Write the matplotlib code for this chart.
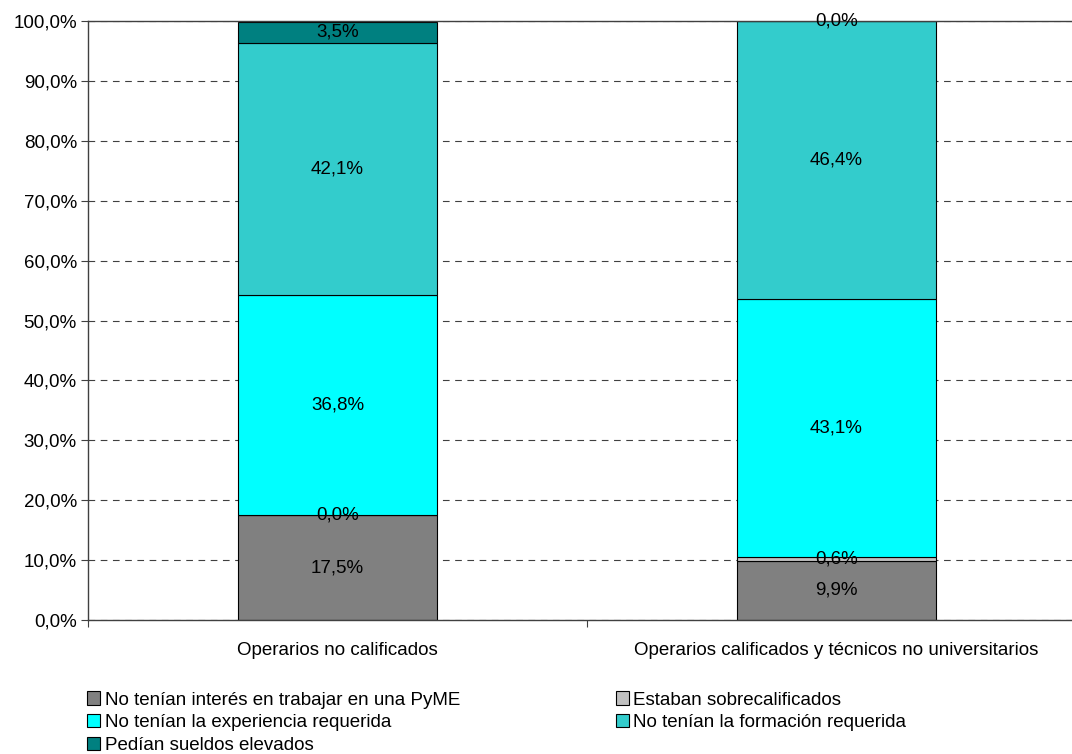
import matplotlib.pyplot as plt
import numpy as np
from matplotlib.ticker import FuncFormatter

plt.rcParams['font.family'] = ['Liberation Sans', 'DejaVu Sans']

categories = ['Operarios no calificados',
              'Operarios calificados y técnicos no universitarios']
series = ['No tenían interés en trabajar en una PyME',
          'Estaban sobrecalificados',
          'No tenían la experiencia requerida',
          'No tenían la formación requerida',
          'Pedían sueldos elevados']
values = [
    [17.5, 9.9],
    [0.0, 0.6],
    [36.8, 43.1],
    [42.1, 46.4],
    [3.5, 0.0],
]
colors = ['#808080', '#C0C0C0', '#00FFFF', '#33CCCC', '#008080']

fs = 13.5
fig = plt.figure(figsize=(10.72, 7.54), dpi=100)
ax = fig.add_axes([0.0821, 0.1777, 0.931, 0.7944])

x = np.arange(len(categories)) + 0.5
bottom = np.zeros(len(categories))
for name, vals, c in zip(series, values, colors):
    vals = np.array(vals)
    ax.bar(x, vals, 0.40, bottom=bottom, color=c, edgecolor='black',
           linewidth=0.8, label=name, zorder=2)
    for xi, b, v in zip(x, bottom, vals):
        ax.text(xi, b + v / 2, f'{v:.1f}%'.replace('.', ','), ha='center',
                va='center', fontsize=fs, zorder=3)
    bottom += vals

ax.set_xlim(0, 2)
ax.set_ylim(0, 100)
ax.set_yticks(np.arange(0, 101, 10))
ax.yaxis.set_major_formatter(FuncFormatter(lambda v, p: f'{v:.1f}%'.replace('.', ',')))
ax.tick_params(axis='y', labelsize=fs, length=5, color='#404040', pad=3)
ax.set_xticks([0, 1, 2])
ax.set_xticklabels([])
ax.set_xticks(x, minor=True)
ax.set_xticklabels(categories, minor=True, fontsize=fs)
ax.tick_params(axis='x', which='major', length=5, color='#404040')
ax.tick_params(axis='x', which='minor', length=0, pad=16)
ax.grid(axis='y', color='#404040', linestyle=(0, (6, 5)), linewidth=0.8, zorder=1)
ax.spines['right'].set_visible(False)
for s in ['left', 'bottom', 'top']:
    ax.spines[s].set_color('#404040')
    ax.spines[s].set_linewidth(1.0)

handles, labels = ax.get_legend_handles_labels()
order = [0, 2, 4, 1, 3]
fig.legend([handles[i] for i in order], [labels[i] for i in order],
           loc='upper left', bbox_to_anchor=(0.081, 0.083), ncol=2,
           frameon=False, fontsize=fs, handlelength=0.7, handleheight=0.7,
           handletextpad=0.25, labelspacing=0.29, columnspacing=8.3,
           borderaxespad=0, borderpad=0)

fig.savefig('out.png', dpi=100)
